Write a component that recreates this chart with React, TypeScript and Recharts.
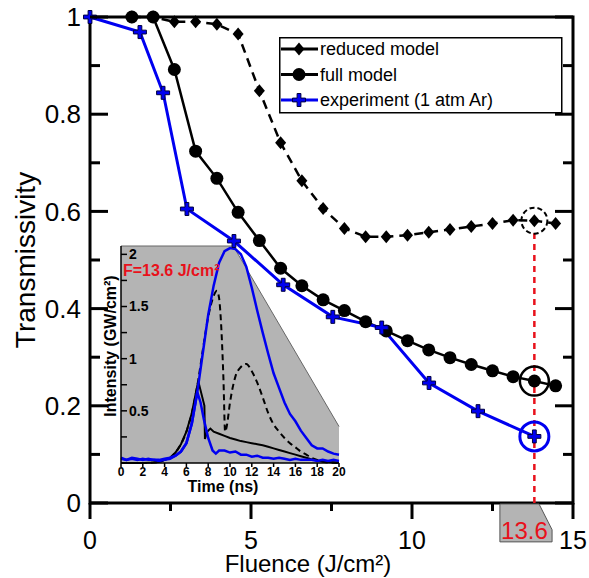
import React from 'react';
import {
  LineChart,
  ComposedChart,
  Line,
  Area,
  XAxis,
  YAxis,
  ReferenceArea,
  ReferenceDot,
  ReferenceLine,
  Legend,
  Label,
} from 'recharts';

const FONT = '"Liberation Sans", Arial, Helvetica, sans-serif';
const BLUE = '#0000f0';
const RED = '#e8111b';
const GREY = '#b4b4b4';

// ---- main panel: transmissivity vs fluence ----
const fluenceModel = [1.3, 1.96, 2.62, 3.28, 3.94, 4.6, 5.26, 5.92, 6.58, 7.24, 7.9, 8.56, 9.2, 9.86, 10.52, 11.18, 11.84, 12.5, 13.14, 13.8, 14.46];
const reducedModel = [1.0, 1.0, 0.99, 0.99, 0.985, 0.965, 0.848, 0.741, 0.663, 0.606, 0.565, 0.548, 0.548, 0.551, 0.557, 0.563, 0.569, 0.575, 0.582, 0.581, 0.575];
const fullModel = [1.0, 1.0, 0.892, 0.724, 0.668, 0.598, 0.54, 0.483, 0.447, 0.418, 0.396, 0.373, 0.354, 0.334, 0.315, 0.299, 0.285, 0.272, 0.26, 0.251, 0.241];
const fluenceExp = [0, 1.55, 2.27, 3.01, 4.47, 6.0, 7.54, 9.06, 10.53, 12.05, 13.8];
const experiment = [1.0, 0.969, 0.844, 0.605, 0.539, 0.449, 0.383, 0.361, 0.247, 0.189, 0.137];

const fluenceTicks = [0, 2.5, 5, 7.5, 10, 12.5, 15];
const transTicks = [0, 0.1, 0.2, 0.3, 0.4, 0.5, 0.6, 0.7, 0.8, 0.9, 1];

// highlighted shot (index 19 in model arrays, 10 in experiment)
const markedModelIdx = 19;
const markedExpIdx = 10;
const markedLabel = '13.6';
const calloutFluence = [12.73, 14.35];
const calloutTrans = [-0.08, -0.002];

// ---- inset: pulse shapes at F = 13.6 J/cm2 ----
const timeTicks = [0, 2, 4, 6, 8, 10, 12, 14, 16, 18, 20];
const intensityTicks = [0.25, 0.5, 0.75, 1, 1.25, 1.5, 1.75, 2];

const tIncident = [0, 0.5, 1, 1.5, 2, 2.5, 3, 3.5, 4, 4.5, 5, 5.5, 6, 6.5, 7, 7.5, 8, 8.5, 9, 9.5, 10, 10.5, 11, 11.5, 12, 12.5, 13, 13.5, 14, 14.5, 15, 15.5, 16, 16.5, 17, 17.5, 18, 18.5, 19, 19.5, 20];
const incident = [0.05, 0.03, 0.05, 0.04, 0.03, 0.04, 0.03, 0.03, 0.04, 0.05, 0.07, 0.11, 0.19, 0.38, 0.68, 1.05, 1.42, 1.7, 1.92, 2.03, 2.06, 2.05, 2.0, 1.88, 1.68, 1.46, 1.25, 1.05, 0.86, 0.72, 0.58, 0.47, 0.4, 0.31, 0.24, 0.17, 0.14, 0.14, 0.11, 0.09, 0.08];

const tTransmitted = [0, 0.5, 1, 1.5, 2, 2.5, 3, 3.5, 4, 4.5, 5, 5.5, 6, 6.5, 7, 7.3, 7.6, 8, 8.4, 8.7, 9, 9.5, 10, 10.5, 11, 11.5, 12, 12.5, 13, 13.5, 14, 14.5, 15, 15.5, 16, 16.5, 17, 17.5, 18, 18.5, 19, 19.5, 20];
const transmitted = [0.04, 0.03, 0.04, 0.03, 0.04, 0.03, 0.03, 0.02, 0.03, 0.04, 0.07, 0.11, 0.19, 0.38, 0.68, 0.58, 0.42, 0.24, 0.12, 0.09, 0.12, 0.12, 0.1, 0.11, 0.08, 0.08, 0.06, 0.07, 0.05, 0.05, 0.04, 0.05, 0.04, 0.03, 0.04, 0.03, 0.03, 0.03, 0.02, 0.03, 0.02, 0.03, 0.02];

const tFullPulse = [0, 1, 2, 3, 3.5, 4, 4.5, 5, 5.5, 6, 6.5, 7, 7.1, 7.65, 7.7, 7.9, 8.2, 8.5, 9, 9.5, 10, 10.5, 11, 11.5, 12, 12.5, 13, 13.5, 14, 14.5, 15, 15.5, 16, 16.5, 17, 17.5, 18, 18.5, 19, 20];
const fullPulse = [0, 0, 0, 0.005, 0.01, 0.03, 0.05, 0.1, 0.18, 0.3, 0.48, 0.74, 0.78, 0.55, 0.23, 0.3, 0.33, 0.3, 0.28, 0.26, 0.24, 0.225, 0.21, 0.2, 0.19, 0.18, 0.17, 0.155, 0.14, 0.125, 0.11, 0.095, 0.08, 0.065, 0.05, 0.035, 0.025, 0.015, 0.01, 0.005];

const tReducedPulse = [0, 1, 2, 3, 3.5, 4, 4.5, 5, 5.5, 6, 6.5, 7, 7.5, 8, 8.5, 8.8, 9, 9.2, 9.4, 9.55, 9.7, 10, 10.5, 11, 11.5, 12, 12.5, 13, 13.5, 14, 14.5, 15, 15.5, 16, 16.5, 17, 17.5, 18, 18.5, 19, 20];
const reducedPulse = [0, 0, 0, 0.005, 0.01, 0.03, 0.05, 0.1, 0.18, 0.3, 0.48, 0.74, 1.08, 1.4, 1.6, 1.65, 1.58, 1.3, 0.8, 0.3, 0.35, 0.58, 0.83, 0.92, 0.95, 0.88, 0.77, 0.63, 0.48, 0.37, 0.3, 0.24, 0.19, 0.15, 0.11, 0.08, 0.05, 0.03, 0.015, 0.005, 0];

// grey zoom-callout backdrop of the inset
const shadeTime = [0, 10.3, 20];
const shadeLevel = [2.08, 2.08, 0.35];

const rows = (xs: number[], ys: number[], key: string) => xs.map((x, i) => ({ [key]: x, v: ys[i] }));

const reducedRows = rows(fluenceModel, reducedModel, 'f');
const fullRows = rows(fluenceModel, fullModel, 'f');
const expRows = rows(fluenceExp, experiment, 'f');

const incidentRows = rows(tIncident, incident, 't');
const transmittedRows = rows(tTransmitted, transmitted, 't');
const fullPulseRows = rows(tFullPulse, fullPulse, 't');
const reducedPulseRows = rows(tReducedPulse, reducedPulse, 't');
const shadeRows = rows(shadeTime, shadeLevel, 't');

// ---- markers ----
const Diamond = ({ cx, cy }: any) => {
  if (cx == null || cy == null) return null;
  return <path d={`M${cx},${cy - 6.5}L${cx + 5.5},${cy}L${cx},${cy + 6.5}L${cx - 5.5},${cy}Z`} fill="#000" />;
};

const Circle = ({ cx, cy }: any) => {
  if (cx == null || cy == null) return null;
  return <circle cx={cx} cy={cy} r={6.5} fill="#000" />;
};

const Plus = ({ cx, cy }: any) => {
  if (cx == null || cy == null) return null;
  const a = 6.5;
  const b = 1.9;
  const d = `M${cx - b},${cy - a}H${cx + b}V${cy - b}H${cx + a}V${cy + b}H${cx + b}V${cy + a}H${cx - b}V${cy + b}H${cx - a}V${cy - b}H${cx - b}Z`;
  return <path d={d} fill={BLUE} stroke="#000040" strokeWidth={1} />;
};

// ---- main axes ticks (drawn inward on left/top/right, outward on bottom) ----
const BottomTick = ({ x, y, payload }: any) => {
  const major = payload.value % 5 === 0;
  return (
    <g>
      <line x1={x} x2={x} y1={y} y2={y + (major ? 16 : 8)} stroke="#000" strokeWidth={3} />
      {major && (
        <text x={x} y={y + 46} textAnchor="middle" fontSize={25} fontFamily={FONT} fill="#000">
          {payload.value}
        </text>
      )}
    </g>
  );
};

const TopTick = ({ x, y, payload }: any) => {
  const major = payload.value % 5 === 0;
  return <line x1={x} x2={x} y1={y} y2={y + (major ? 16 : 10)} stroke="#000" strokeWidth={3} />;
};

const LeftTick = ({ x, y, payload }: any) => {
  const major = Math.round(payload.value * 10) % 2 === 0;
  return (
    <g>
      <line x1={x} x2={x + (major ? 18 : 10)} y1={y} y2={y} stroke="#000" strokeWidth={3} />
      {major && (
        <text x={x - 9} y={y} dy="0.35em" textAnchor="end" fontSize={26} fontFamily={FONT} fill="#000">
          {payload.value}
        </text>
      )}
    </g>
  );
};

const RightTick = ({ x, y, payload }: any) => {
  const major = Math.round(payload.value * 10) % 2 === 0;
  return <line x1={x} x2={x - (major ? 18 : 10)} y1={y} y2={y} stroke="#000" strokeWidth={3} />;
};

const FluenceTitle = () => (
  <text x={308} y={572} textAnchor="middle" fontSize={24} fontFamily={FONT} fill="#000">
    Fluence (J/cm²)
  </text>
);

const TransTitle = () => (
  <text x={25} y={260} transform="rotate(-90 25 260)" textAnchor="middle" dominantBaseline="central" fontSize={28} fontFamily={FONT} fill="#000">
    Transmissivity
  </text>
);

const CalloutBox = ({ x, y, width, height }: any) => {
  if (x == null) return null;
  const pts = [
    [x, y],
    [x + width * 0.75, y],
    [x + width, y + height * 0.68],
    [x + width, y + height],
    [x, y + height],
  ]
    .map((p) => p.join(','))
    .join(' ');
  return (
    <g>
      <polygon points={pts} fill={GREY} stroke="#555" strokeWidth={1} />
      <text x={x + width * 0.47} y={y + height - 3} textAnchor="middle" fontSize={24} fontFamily={FONT} fill={RED}>
        {markedLabel}
      </text>
    </g>
  );
};

const legendItems = [
  { name: 'reduced model', color: '#000', Marker: Diamond },
  { name: 'full model', color: '#000', Marker: Circle },
  { name: 'experiment (1 atm Ar)', color: BLUE, Marker: Plus },
];

const LegendBox = () => (
  <svg width={284} height={77} style={{ display: 'block' }}>
    <rect x={0.75} y={0.75} width={282} height={75} fill="#fff" stroke="#000" strokeWidth={1.5} />
    {legendItems.map((it, i) => {
      const cy = 12 + i * 25.5;
      return (
        <g key={it.name}>
          <line x1={2} x2={39} y1={cy} y2={cy} stroke={it.color} strokeWidth={3} />
          <it.Marker cx={20} cy={cy} />
          <text x={41} y={cy} dy="0.35em" fontSize={18} fontFamily={FONT} fill="#000">
            {it.name}
          </text>
        </g>
      );
    })}
  </svg>
);

// ---- inset ticks / titles ----
const InsetTimeTick = ({ x, y, payload }: any) => (
  <g>
    <line x1={x} x2={x} y1={y} y2={y + 4} stroke="#000" strokeWidth={1.5} />
    <text x={x} y={y + 13} textAnchor="middle" fontSize={12} fontWeight="bold" fontFamily={FONT} fill="#000">
      {payload.value}
    </text>
  </g>
);

const InsetIntensityTick = ({ x, y, payload }: any) => {
  const major = payload.value % 0.5 === 0;
  return (
    <g>
      <line x1={x} x2={x + 6} y1={y} y2={y} stroke="#000" strokeWidth={1.5} />
      {major && (
        <text x={x + 8} y={y} dy="0.35em" textAnchor="start" fontSize={14} fontWeight="bold" fontFamily={FONT} fill="#000">
          {payload.value}
        </text>
      )}
    </g>
  );
};

const TimeTitle = () => (
  <text x={133} y={252} textAnchor="middle" fontSize={16} fontWeight="bold" fontFamily={FONT} fill="#000">
    Time (ns)
  </text>
);

const IntensityTitle = () => (
  <g>
    <text x={20} y={106} transform="rotate(-90 20 106)" textAnchor="middle" dominantBaseline="central" fontSize={16} fontWeight="bold" fontFamily={FONT} fill="#000">
      Intensity (GW/cm²)
    </text>
    <text x={33} y={36} fontSize={16} fontWeight="bold" fontFamily={FONT} fill={RED}>
      F=13.6 J/cm²
    </text>
  </g>
);

function PulseInset() {
  return (
    <ComposedChart width={260} height={260} margin={{ top: 6, right: 11, left: 0, bottom: 0 }}>
      <XAxis
        type="number"
        dataKey="t"
        domain={[0, 20]}
        ticks={timeTicks}
        interval={0}
        height={37}
        axisLine={{ stroke: '#000', strokeWidth: 1.5 }}
        tickLine={false}
        tickSize={0}
        tickMargin={0}
        tick={<InsetTimeTick />}
      >
        <Label content={<TimeTitle />} />
      </XAxis>
      <YAxis
        type="number"
        domain={[0, 2.08]}
        ticks={intensityTicks}
        interval={0}
        width={31}
        axisLine={{ stroke: '#000', strokeWidth: 1.5 }}
        tickLine={false}
        tickSize={0}
        tickMargin={0}
        tick={<InsetIntensityTick />}
      >
        <Label content={<IntensityTitle />} />
      </YAxis>
      <Area data={shadeRows} dataKey="v" type="linear" fill={GREY} fillOpacity={1} stroke="#666" strokeWidth={1} isAnimationActive={false} />
      <Line data={reducedPulseRows} dataKey="v" type="monotone" stroke="#000" strokeWidth={2} strokeDasharray="6 4" dot={false} isAnimationActive={false} />
      <Line data={fullPulseRows} dataKey="v" type="linear" stroke="#000" strokeWidth={2} dot={false} isAnimationActive={false} />
      <Line data={transmittedRows} dataKey="v" type="linear" stroke={BLUE} strokeWidth={2.5} dot={false} isAnimationActive={false} />
      <Line data={incidentRows} dataKey="v" type="linear" stroke={BLUE} strokeWidth={2.5} dot={false} isAnimationActive={false} />
    </ComposedChart>
  );
}

export default function App() {
  const hiF = fluenceModel[markedModelIdx];
  return (
    <div style={{ position: 'absolute', left: 0, top: 0, width: 589, height: 578, background: '#fff', fontFamily: FONT }}>
      <div style={{ position: 'absolute', left: 90, top: 240, zIndex: 0 }}>
        <PulseInset />
      </div>
      <div style={{ position: 'absolute', left: 0, top: 0, zIndex: 1 }}>
        <LineChart width={589} height={578} margin={{ top: 0, right: 0, bottom: 0, left: 0 }}>
          <XAxis
            type="number"
            dataKey="f"
            domain={[0, 15]}
            ticks={fluenceTicks}
            interval={0}
            height={75}
            axisLine={false}
            tickLine={false}
            tickSize={0}
            tickMargin={0}
            tick={<BottomTick />}
          >
            <Label content={<FluenceTitle />} />
          </XAxis>
          <XAxis
            xAxisId="top"
            orientation="top"
            type="number"
            domain={[0, 15]}
            allowDataOverflow
            ticks={fluenceTicks}
            interval={0}
            height={17}
            axisLine={false}
            tickLine={false}
            tickSize={0}
            tickMargin={0}
            tick={<TopTick />}
          />
          <YAxis
            type="number"
            domain={[0, 1]}
            ticks={transTicks}
            interval={0}
            width={90}
            axisLine={false}
            tickLine={false}
            tickSize={0}
            tickMargin={0}
            tick={<LeftTick />}
          >
            <Label content={<TransTitle />} />
          </YAxis>
          <YAxis
            yAxisId="right"
            orientation="right"
            type="number"
            domain={[0, 1]}
            allowDataOverflow
            ticks={transTicks}
            interval={0}
            width={16}
            axisLine={false}
            tickLine={false}
            tickSize={0}
            tickMargin={0}
            tick={<RightTick />}
          />
          <ReferenceArea x1={0} x2={15} y1={0} y2={1} fill="none" stroke="#000" strokeWidth={3} />
          <ReferenceArea
            x1={calloutFluence[0]}
            x2={calloutFluence[1]}
            y1={calloutTrans[0]}
            y2={calloutTrans[1]}
            ifOverflow="visible"
            shape={<CalloutBox />}
          />
          <ReferenceLine
            segment={[
              { x: hiF, y: 0 },
              { x: hiF, y: 0.555 },
            ]}
            stroke={RED}
            strokeWidth={2.5}
            strokeDasharray="6 5"
          />
          <Line
            data={reducedRows}
            dataKey="v"
            type="linear"
            stroke="#000"
            strokeWidth={2.5}
            strokeDasharray="9 6"
            dot={(p: any) => <Diamond key={p.index} {...p} />}
            isAnimationActive={false}
          />
          <Line
            data={fullRows}
            dataKey="v"
            type="linear"
            stroke="#000"
            strokeWidth={2.5}
            dot={(p: any) => <Circle key={p.index} {...p} />}
            isAnimationActive={false}
          />
          <Line
            data={expRows}
            dataKey="v"
            type="linear"
            stroke={BLUE}
            strokeWidth={3}
            dot={(p: any) => <Plus key={p.index} {...p} />}
            isAnimationActive={false}
          />
          <ReferenceDot x={hiF} y={reducedModel[markedModelIdx]} r={13} fill="none" stroke="#000" strokeWidth={2} strokeDasharray="5 3" />
          <ReferenceDot x={hiF} y={fullModel[markedModelIdx]} r={14.5} fill="none" stroke="#000" strokeWidth={2.5} />
          <ReferenceDot x={fluenceExp[markedExpIdx]} y={experiment[markedExpIdx]} r={14.5} fill="none" stroke={BLUE} strokeWidth={3} />
          <Legend
            layout="horizontal"
            verticalAlign="middle"
            align="center"
            content={<LegendBox />}
            wrapperStyle={{ left: 279, top: 37, width: 284, height: 77 }}
          />
        </LineChart>
      </div>
    </div>
  );
}
